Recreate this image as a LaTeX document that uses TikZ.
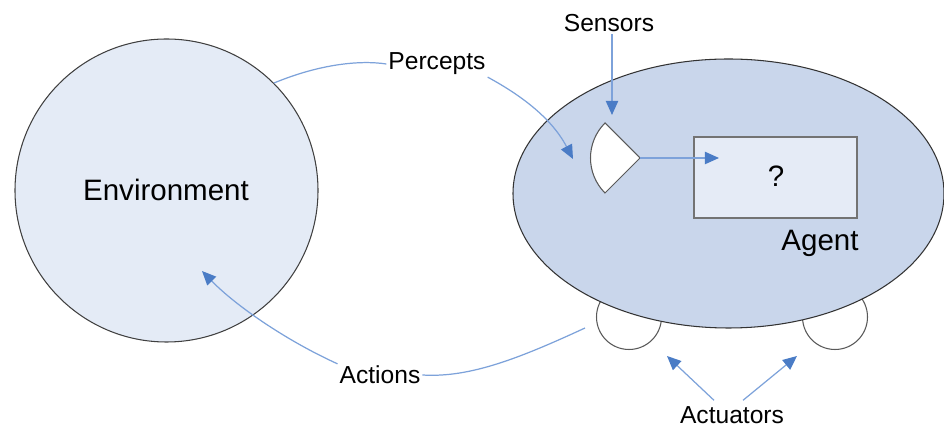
\documentclass[tikz,border=0pt]{standalone}
\usepackage{fontspec}
\setmainfont{Liberation Sans}
\usepackage{xcolor}
\usetikzlibrary{arrows.meta, positioning}

\definecolor{envfill}{HTML}{E4EBF6}
\definecolor{agentfill}{HTML}{C9D6EB}
\definecolor{boxfill}{HTML}{E5EBF6}
\definecolor{tipblue}{HTML}{4A7CC6}
\definecolor{lineblue}{HTML}{7DA2DA}

\tikzset{
  lbl/.style={font=\fontsize{14}{16}\selectfont, inner sep=1pt},
  big/.style={font=\fontsize{16.8}{19}\selectfont, inner sep=1pt},
  link/.style={draw=lineblue, line width=0.7pt},
  pointer/.style={link, -{Triangle[length=8pt, width=7pt, fill=tipblue, color=tipblue]}}
}

\begin{document}
\begin{tikzpicture}[x=0.02cm, y=-0.02cm]
                  \useasboundingbox (0,0) rectangle (944,428);
                  % environment
                  \node[circle, draw=black!75, fill=envfill, line width=0.6pt, minimum size=303*0.02cm, inner sep=0pt] (env) at (166.5,190.5) {};
                  \node[big] (envtext) at (166,190) {Environment};
                  % wheels, then agent body on top
                  \node[circle, draw=black!65, fill=white, line width=0.6pt, minimum size=65*0.02cm, inner sep=0pt] (wheelL) at (629,317) {};
                  \node[circle, draw=black!65, fill=white, line width=0.6pt, minimum size=65*0.02cm, inner sep=0pt] (wheelR) at (835,317) {};
                  \draw[draw=black!80, fill=agentfill, line width=0.6pt] (728.5,193.5) ellipse [x radius=215.5, y radius=134.5];
                  \coordinate (agent) at (728.5,193.5);
                  \node[big] (agenttext) at (820,243) {Agent};
                  % sensor and program box
                  \coordinate (sensor) at (640,158);
                  \draw[draw=black!65, fill=white, line width=0.6pt] (sensor) -- (605,123) arc[start angle=225, end angle=135, radius=49.5] -- cycle;
                  \node[draw=black!55, fill=boxfill, line width=1.2pt, minimum width=163*0.02cm, minimum height=81*0.02cm, inner sep=0pt] (box) at (775.5,177.5) {};
                  \node[big] (query) at (776,176) {?};
                  \coordinate (boxin) at (719,158);
                  \draw[pointer] (sensor) -- (boxin);
                  % labels
                  \node[lbl] (sensors) at (609,23) {Sensors};
                  \node[lbl] (percepts) at (437,64) {Percepts};
                  \node[lbl] (actions) at (380,375) {Actions};
                  \node[lbl] (actuators) at (732,415) {Actuators};
                  % connectors
                  \coordinate (sensortip) at (612,115);
                  \draw[pointer] (sensors.south -| sensortip) -- (sensortip);
                  \coordinate (percepttip) at (573,159);
                  \draw[link] (env.45) .. controls (320,64) and (360,60) .. (percepts.west);
                  \draw[pointer] (percepts.south east) .. controls (515,92) and (550,115) .. (percepttip);
                  \coordinate (actstart) at (585,328);
                  \coordinate (envtip) at (202,271);
                  \draw[link] (actstart) .. controls (520,358) and (470,378) .. (actions.east);
                  \draw[pointer] (actions.north west) .. controls (285,340) and (235,305) .. (envtip);
                  \coordinate (wheeltipL) at (667,356);
                  \coordinate (wheeltipR) at (797,356);
                  \draw[pointer] (actuators.north) ++(-18,-4) -- (wheeltipL);
                  \draw[pointer] (actuators.north) ++(11,-4) -- (wheeltipR);
\end{tikzpicture}
\end{document}
